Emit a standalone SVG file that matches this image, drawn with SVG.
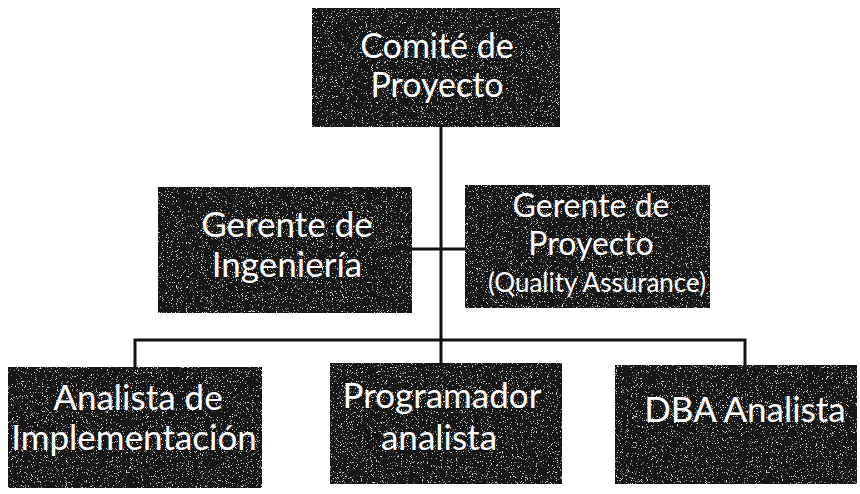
<svg xmlns="http://www.w3.org/2000/svg" width="860" height="494" viewBox="0 0 860 494">
<defs>
<filter id="grain" x="0" y="0" width="100%" height="100%">
<feTurbulence type="fractalNoise" baseFrequency="1.2" numOctaves="2" seed="4" result="n"/>
<feColorMatrix in="n" type="matrix" values="0 0 0 0 0.7  0 0 0 0 0.7  0 0 0 0 0.7  10 0 0 0 -6.4" result="specks"/>
<feComposite in="specks" in2="SourceGraphic" operator="in" result="s2"/>
<feMerge><feMergeNode in="SourceGraphic"/><feMergeNode in="s2"/></feMerge>
</filter>
</defs>
<style>
.box{fill:#141414;stroke:#111;stroke-width:1;filter:url(#grain)}
.t{fill:#fff;font-family:Lato,"Open Sans",sans-serif;text-anchor:middle}
.c{stroke:#111;stroke-width:3;fill:none}
</style>
<rect width="860" height="494" fill="#fff"/>
<g id="connectors">
<line class="c" x1="441" y1="127" x2="441" y2="363"/>
<line class="c" x1="412" y1="249" x2="465" y2="249"/>
<polyline class="c" points="135,367 135,340 745,340 745,365"/>
</g>
<g id="comite">
<rect class="box" x="312" y="8" width="248" height="119"/>
<text class="t" font-size="34"><tspan x="437" y="58">Comité de</tspan><tspan x="437" y="97">Proyecto</tspan></text>
</g>
<g id="gerente-ingenieria">
<rect class="box" x="158" y="187" width="254" height="126"/>
<text class="t" font-size="35"><tspan x="287" y="237">Gerente de</tspan><tspan x="287" y="277">Ingeniería</tspan></text>
</g>
<g id="gerente-proyecto">
<rect class="box" x="465" y="185" width="245" height="123"/>
<text class="t" font-size="32"><tspan x="591" y="217">Gerente de</tspan><tspan x="591" y="255">Proyecto</tspan></text>
<text class="t" font-size="26" x="597" y="292">(Quality Assurance)</text>
</g>
<g id="analista-implementacion">
<rect class="box" x="8" y="367" width="254" height="121"/>
<text class="t" font-size="35"><tspan x="138" y="410">Analista de</tspan><tspan x="134" y="450">Implementación</tspan></text>
</g>
<g id="programador-analista">
<rect class="box" x="330" y="363" width="232" height="121"/>
<text class="t" font-size="35"><tspan x="442" y="408">Programador</tspan><tspan x="439" y="450">analista</tspan></text>
</g>
<g id="dba-analista">
<rect class="box" x="615" y="365" width="242" height="119"/>
<text class="t" font-size="35" x="745" y="422">DBA Analista</text>
</g>
</svg>
